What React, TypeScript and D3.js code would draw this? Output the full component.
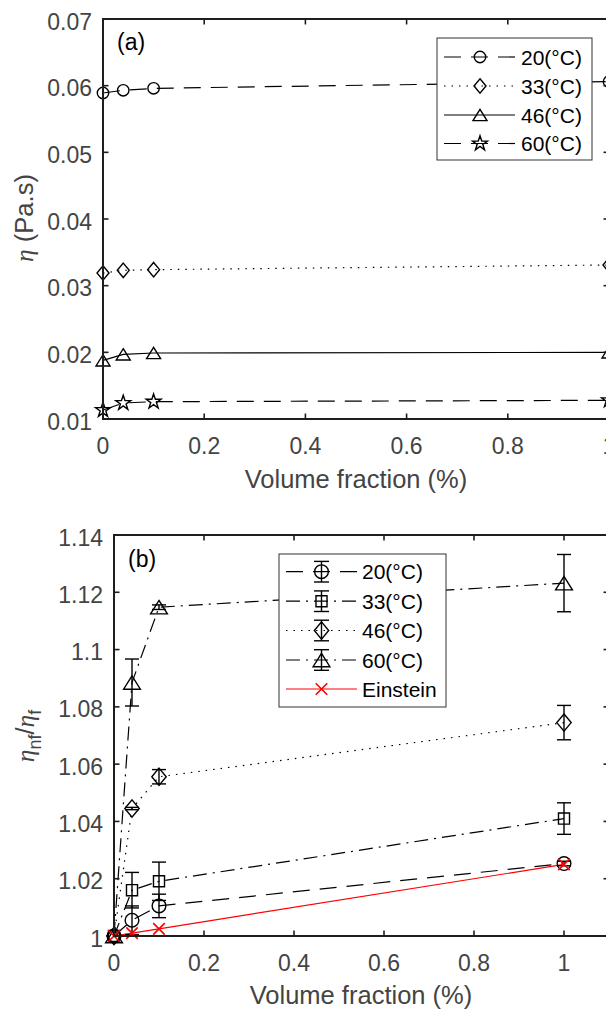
import React from "react";
import * as d3 from "d3";

// ---------- Data: panel (a) viscosity ----------
const volA = [0, 0.04, 0.1, 1];
const etaA20 = [0.0589, 0.0593, 0.0596, 0.0606];
const etaA33 = [0.0319, 0.0323, 0.0324, 0.0331];
const etaA46 = [0.0188, 0.0197, 0.0199, 0.02];
const etaA60 = [0.01135, 0.0124, 0.0126, 0.0128];
const labelsA = ["20(°C)", "33(°C)", "46(°C)", "60(°C)"];
const xTicksA = [0, 0.2, 0.4, 0.6, 0.8, 1];
const xTickLabelsA = ["0", "0.2", "0.4", "0.6", "0.8", "1"];
const yTicksA = [0.01, 0.02, 0.03, 0.04, 0.05, 0.06, 0.07];
const yTickLabelsA = ["0.01", "0.02", "0.03", "0.04", "0.05", "0.06", "0.07"];

// ---------- Data: panel (b) relative viscosity ----------
const volB = [0, 0.04, 0.1, 1];
const relB20 = [1, 1.0055, 1.0105, 1.0253];
const errB20 = [0, 0.005, 0.0041, 0.0008];
const relB33 = [1, 1.016, 1.0191, 1.041];
const errB33 = [0, 0.0062, 0.0067, 0.0055];
const relB46 = [1, 1.0445, 1.0556, 1.0745];
const errB46 = [0, 0.0004, 0.0025, 0.006];
const relB60 = [1, 1.0885, 1.1148, 1.1232];
const errB60 = [0, 0.0082, 0.0008, 0.01];
const einstein = [1, 1.001, 1.0025, 1.025];
const labelsB = ["20(°C)", "33(°C)", "46(°C)", "60(°C)", "Einstein"];
const xTicksB = [0, 0.2, 0.4, 0.6, 0.8, 1];
const xTickLabelsB = ["0", "0.2", "0.4", "0.6", "0.8", "1"];
const yTicksB = [1, 1.02, 1.04, 1.06, 1.08, 1.1, 1.12, 1.14];
const yTickLabelsB = ["1", "1.02", "1.04", "1.06", "1.08", "1.1", "1.12", "1.14"];

// ---------- Marker shapes ----------
type MarkerKind = "circle" | "diamond" | "triangle" | "star" | "square" | "cross";
function markerPath(kind: MarkerKind, s: number): string {
  switch (kind) {
    case "circle": {
      const r = 5.7 * s;
      return `M${-r},0a${r},${r} 0 1,0 ${2 * r},0a${r},${r} 0 1,0 ${-2 * r},0Z`;
    }
    case "diamond": {
      const hw = 6 * s, hh = 7.2 * s;
      return `M0,${-hh}L${hw},0L0,${hh}L${-hw},0Z`;
    }
    case "triangle": {
      const hw = 7 * s, hh = 5.6 * s;
      return `M0,${-hh}L${hw},${hh}L${-hw},${hh}Z`;
    }
    case "square": {
      const h = 4.6 * s;
      return `M${-h},${-h}H${h}V${h}H${-h}Z`;
    }
    case "cross": {
      const h = 4.8 * s;
      return `M${-h},${-h}L${h},${h}M${-h},${h}L${h},${-h}`;
    }
    case "star": {
      const R = 7.8 * s, r = R * 0.382;
      const pts: string[] = [];
      for (let i = 0; i < 10; i++) {
        const a = -Math.PI / 2 + (i * Math.PI) / 5;
        const rr = i % 2 === 0 ? R : r;
        pts.push(`${(rr * Math.cos(a)).toFixed(2)},${(rr * Math.sin(a)).toFixed(2)}`);
      }
      return "M" + pts.join("L") + "Z";
    }
  }
}

const FONT = "'Liberation Sans', Arial, Helvetica, sans-serif";
const TICK_COLOR = "#444";
const AXIS_COLOR = "#1e1e1e";
const DASH = "17 10";
const DOT = "1.5 6";
const DASHDOT = "14 6 2 6";

type Series = {
  label: string;
  values: number[];
  err?: number[];
  dash?: string;
  marker: MarkerKind;
  color: string;
};

function AxesFrame(props: {
  x: d3.ScaleLinear<number, number>;
  y: d3.ScaleLinear<number, number>;
  xTicks: number[];
  xLabels: string[];
  yTicks: number[];
  yLabels: string[];
}) {
  const { x, y, xTicks, xLabels, yTicks, yLabels } = props;
  const [x0, x1] = x.range();
  const [y0, y1] = y.range(); // y0 bottom, y1 top
  const tl = 5.5;
  return (
    <g>
      <rect x={x0} y={y1} width={x1 - x0} height={y0 - y1} fill="none" stroke={AXIS_COLOR} strokeWidth={2} />
      {xTicks.map((t, i) => (
        <g key={"xt" + i}>
          <line x1={x(t)} x2={x(t)} y1={y0} y2={y0 - tl} stroke={AXIS_COLOR} strokeWidth={1.6} />
          <line x1={x(t)} x2={x(t)} y1={y1} y2={y1 + tl} stroke={AXIS_COLOR} strokeWidth={1.6} />
          <text x={x(t)} y={y0 + 35} textAnchor="middle" fontSize={23} fill={TICK_COLOR} fontFamily={FONT}>
            {xLabels[i]}
          </text>
        </g>
      ))}
      {yTicks.map((t, i) => (
        <g key={"yt" + i}>
          <line x1={x0} x2={x0 + tl} y1={y(t)} y2={y(t)} stroke={AXIS_COLOR} strokeWidth={1.6} />
          <line x1={x1} x2={x1 - tl} y1={y(t)} y2={y(t)} stroke={AXIS_COLOR} strokeWidth={1.6} />
          <text x={x0 - 11} y={y(t) + 10.5} textAnchor="end" fontSize={23} fill={TICK_COLOR} fontFamily={FONT}>
            {yLabels[i]}
          </text>
        </g>
      ))}
    </g>
  );
}

function SeriesMarks(props: {
  x: d3.ScaleLinear<number, number>;
  y: d3.ScaleLinear<number, number>;
  xs: number[];
  series: Series[];
  scale: number;
  cap: number;
}) {
  const { x, y, xs, series, scale, cap } = props;
  const line = d3
    .line<number>()
    .x((_d, i) => x(xs[i]))
    .y((d) => y(d));
  return (
    <g>
      {series.map((s, k) => (
        <path key={"l" + k} d={line(s.values) || ""} fill="none" stroke={s.color} strokeWidth={1.2} strokeDasharray={s.dash} />
      ))}
      {series.map((s, k) =>
        s.err ? (
          <g key={"e" + k}>
            {s.values.map((v, i) => {
              const e = s.err![i];
              if (!e) return null;
              const cx = x(xs[i]);
              const ya = y(v + e), yb = y(v - e);
              return (
                <g key={i} stroke={s.color} strokeWidth={1.4}>
                  <line x1={cx} x2={cx} y1={ya} y2={yb} />
                  <line x1={cx - cap} x2={cx + cap} y1={ya} y2={ya} />
                  <line x1={cx - cap} x2={cx + cap} y1={yb} y2={yb} />
                </g>
              );
            })}
          </g>
        ) : null
      )}
      {series.map((s, k) => (
        <g key={"m" + k}>
          {s.values.map((v, i) => (
            <path
              key={i}
              transform={`translate(${x(xs[i])},${y(v)})`}
              d={markerPath(s.marker, scale)}
              fill="none"
              stroke={s.color}
              strokeWidth={s.marker === "cross" ? 1.6 : 1.4}
            />
          ))}
        </g>
      ))}
    </g>
  );
}

function Legend(props: {
  x: number;
  y: number;
  w: number;
  h: number;
  rowY: number[];
  lineX: [number, number];
  markX: number;
  textX: number;
  series: Series[];
  scale: number;
  withErr: boolean;
}) {
  const { x, y, w, h, rowY, lineX, markX, textX, series, scale, withErr } = props;
  return (
    <g>
      <rect x={x} y={y} width={w} height={h} fill="#fff" stroke="#333" strokeWidth={1} />
      {series.map((s, i) => (
        <g key={i}>
          <line x1={lineX[0]} x2={lineX[1]} y1={rowY[i]} y2={rowY[i]} stroke={s.color} strokeWidth={1.2} strokeDasharray={s.dash} />
          {withErr && s.err ? (
            <g stroke={s.color} strokeWidth={1.4}>
              <line x1={markX} x2={markX} y1={rowY[i] - 10.3} y2={rowY[i] + 10.3} />
              <line x1={markX - 7.5} x2={markX + 7.5} y1={rowY[i] - 10.3} y2={rowY[i] - 10.3} />
              <line x1={markX - 7.5} x2={markX + 7.5} y1={rowY[i] + 10.3} y2={rowY[i] + 10.3} />
            </g>
          ) : null}
          <path
            transform={`translate(${markX},${rowY[i]})`}
            d={markerPath(s.marker, scale)}
            fill="none"
            stroke={s.color}
            strokeWidth={s.marker === "cross" ? 1.6 : 1.4}
          />
          <text x={textX} y={rowY[i] + 7.5} fontSize={21} fontFamily={FONT} fill="#000">
            {s.label}
          </text>
        </g>
      ))}
    </g>
  );
}

export default function App() {
  const xA = d3.scaleLinear().domain([0, 1]).range([103, 609]);
  const yA = d3.scaleLinear().domain([0.01, 0.07]).range([419, 19]);
  const xB = d3.scaleLinear().domain([0, 1.1]).range([114, 609]);
  const yB = d3.scaleLinear().domain([1, 1.14]).range([936, 535]);

  const seriesA: Series[] = [
    { label: labelsA[0], values: etaA20, dash: DASH, marker: "circle", color: "#000" },
    { label: labelsA[1], values: etaA33, dash: DOT, marker: "diamond", color: "#000" },
    { label: labelsA[2], values: etaA46, marker: "triangle", color: "#000" },
    { label: labelsA[3], values: etaA60, dash: DASH, marker: "star", color: "#000" },
  ];
  const seriesB: Series[] = [
    { label: labelsB[0], values: relB20, err: errB20, dash: DASH, marker: "circle", color: "#000" },
    { label: labelsB[1], values: relB33, err: errB33, dash: DASHDOT, marker: "square", color: "#000" },
    { label: labelsB[2], values: relB46, err: errB46, dash: DOT, marker: "diamond", color: "#000" },
    { label: labelsB[3], values: relB60, err: errB60, dash: DASHDOT, marker: "triangle", color: "#000" },
    { label: labelsB[4], values: einstein, marker: "cross", color: "#ff0000" },
  ];

  return (
    <svg width={606} height={1012} style={{ position: "absolute", left: 0, top: 0, background: "#fff" }}>
      <rect x={0} y={0} width={606} height={1012} fill="#fff" />
      {/* Panel (a) */}
      <SeriesMarks x={xA} y={yA} xs={volA} series={seriesA} scale={1} cap={7} />
      <AxesFrame x={xA} y={yA} xTicks={xTicksA} xLabels={xTickLabelsA} yTicks={yTicksA} yLabels={yTickLabelsA} />
      <text x={117} y={50} fontSize={23} fontFamily={FONT} fill="#000">(a)</text>
      <Legend
        x={437}
        y={38}
        w={155}
        h={122}
        rowY={[57, 86, 115, 143.5]}
        lineX={[444, 515]}
        markX={480}
        textX={521}
        series={seriesA}
        scale={1}
        withErr={false}
      />
      <text x={356} y={488} textAnchor="middle" fontSize={25.5} fontFamily={FONT} fill={TICK_COLOR}>
        Volume fraction (%)
      </text>
      <text transform="translate(33,218) rotate(-90)" textAnchor="middle" fontSize={25.5} fontFamily={FONT} fill={TICK_COLOR}>
        <tspan fontFamily="'Liberation Serif', 'DejaVu Serif', serif" fontStyle="italic">η</tspan>
        <tspan> (Pa.s)</tspan>
      </text>

      {/* Panel (b) */}
      <SeriesMarks x={xB} y={yB} xs={volB} series={seriesB} scale={1.2} cap={7} />
      <AxesFrame x={xB} y={yB} xTicks={xTicksB} xLabels={xTickLabelsB} yTicks={yTicksB} yLabels={yTickLabelsB} />
      <text x={128} y={567} fontSize={23} fontFamily={FONT} fill="#000">(b)</text>
      <Legend
        x={279}
        y={554}
        w={167}
        h={153}
        rowY={[571.7, 601.2, 630.5, 660, 689]}
        lineX={[286, 357]}
        markX={321.5}
        textX={362}
        series={seriesB}
        scale={1.2}
        withErr={true}
      />
      <text x={361} y={1004} textAnchor="middle" fontSize={25.5} fontFamily={FONT} fill={TICK_COLOR}>
        Volume fraction (%)
      </text>
      <text transform="translate(34,736) rotate(-90)" textAnchor="middle" fontSize={25.5} fontFamily={FONT} fill={TICK_COLOR}>
        <tspan fontFamily="'Liberation Serif', 'DejaVu Serif', serif" fontStyle="italic">η</tspan>
        <tspan fontSize={18} dy={7}>nf</tspan>
        <tspan dy={-7}>/</tspan>
        <tspan fontFamily="'Liberation Serif', 'DejaVu Serif', serif" fontStyle="italic">η</tspan>
        <tspan fontSize={18} dy={7}>f</tspan>
      </text>
    </svg>
  );
}
